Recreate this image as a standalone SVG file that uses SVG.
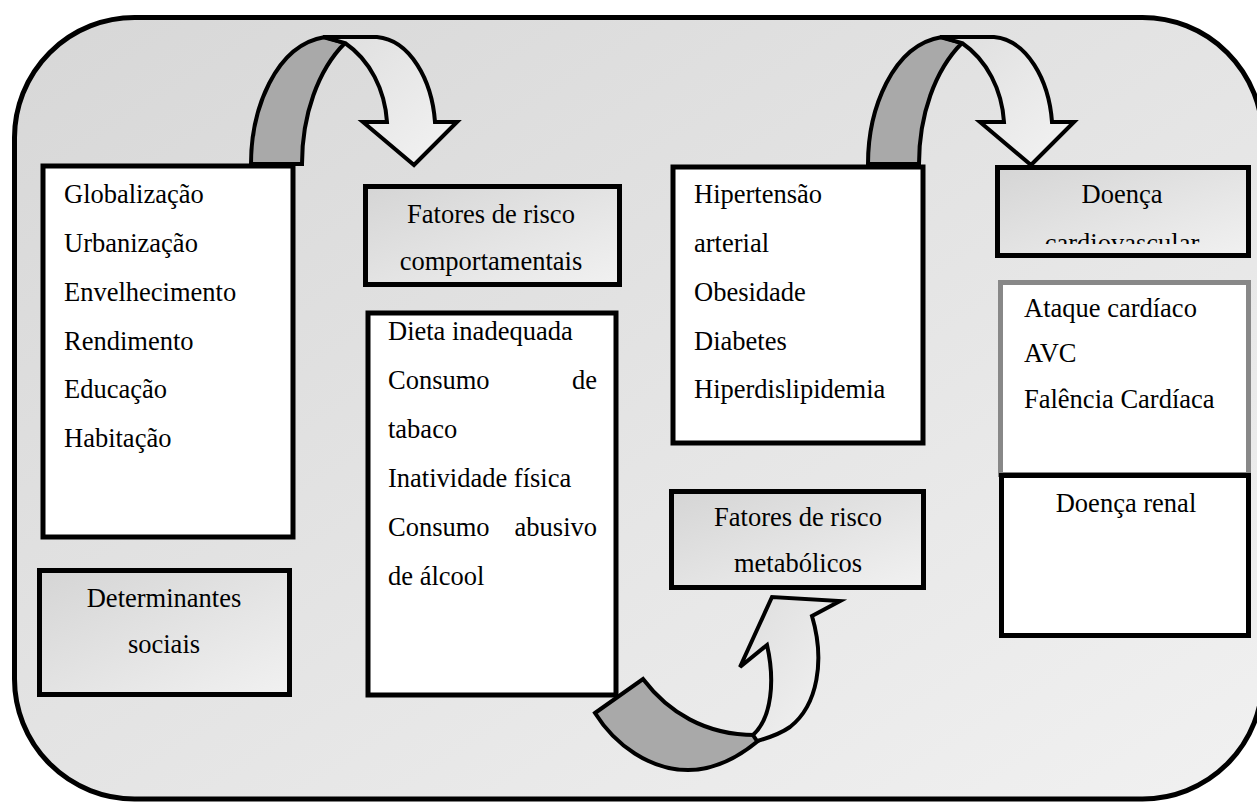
<svg xmlns="http://www.w3.org/2000/svg" width="1257" height="803" viewBox="0 0 1257 803">
<style>
.t{font-family:"Liberation Serif","Times New Roman",serif;font-size:26.5px;fill:#000}
.c{text-anchor:middle}
.e{text-anchor:end}
.wb{fill:#fff;stroke:#000;stroke-width:5}
.gb{fill:url(#gBox);stroke:#000;stroke-width:5}
.dk{fill:#a9a9a9;stroke:#000;stroke-width:4;stroke-linejoin:miter}
.lt{fill:url(#gArr);stroke:#000;stroke-width:4;stroke-linejoin:miter}
</style>
<defs>
<linearGradient id="gFrame" x1="0" y1="0" x2="1" y2="1">
<stop offset="0" stop-color="#d7d7d7"/><stop offset="1" stop-color="#f1f1f1"/>
</linearGradient>
<linearGradient id="gBox" x1="0" y1="0" x2="1" y2="1">
<stop offset="0" stop-color="#d5d5d5"/><stop offset="1" stop-color="#f1f1f1"/>
</linearGradient>
<linearGradient id="gArr" x1="0" y1="0" x2="1" y2="1">
<stop offset="0" stop-color="#dedede"/><stop offset="1" stop-color="#f3f3f3"/>
</linearGradient>
<clipPath id="clipDoenca"><rect x="998" y="168" width="250" height="76"/></clipPath>
<g id="arrowShape">
<path class="dk" d="M251,164 C251,110 275,45 325,37 L345,43 C318,70 302,115 302,164 Z"/>
<path class="lt" d="M323,37 L377,37 C410,40 432,80 435,122 L457,122 L414,165 L363,122 L387,122 C385,90 370,60 345,43 Z"/>
</g>
</defs>

<rect id="frame" x="14.5" y="17.5" width="1248" height="781.5" rx="120" ry="120" fill="url(#gFrame)" stroke="#000" stroke-width="5"/>

<g id="node-determinantes-lista">
<rect class="wb" x="43" y="166" width="250" height="371"/>
<text class="t" x="64" y="203">Globalização</text>
<text class="t" x="64" y="252">Urbanização</text>
<text class="t" x="64" y="301">Envelhecimento</text>
<text class="t" x="64" y="350">Rendimento</text>
<text class="t" x="64" y="398">Educação</text>
<text class="t" x="64" y="447">Habitação</text>
</g>

<g id="node-determinantes-sociais">
<rect class="gb" x="39.5" y="570.5" width="250" height="124"/>
<text class="t c" x="164" y="607">Determinantes</text>
<text class="t c" x="164" y="653">sociais</text>
</g>

<g id="node-comportamentais">
<rect class="gb" x="365.5" y="186.5" width="254" height="98"/>
<text class="t c" x="491" y="223">Fatores de risco</text>
<text class="t c" x="491" y="270">comportamentais</text>
</g>

<g id="node-comportamentais-lista">
<rect class="wb" x="368" y="313" width="248" height="382"/>
<text class="t" x="388" y="340">Dieta inadequada</text>
<text class="t" x="388" y="389">Consumo</text>
<text class="t e" x="597" y="389">de</text>
<text class="t" x="388" y="438">tabaco</text>
<text class="t" x="388" y="487">Inatividade física</text>
<text class="t" x="388" y="536">Consumo</text>
<text class="t e" x="597" y="536">abusivo</text>
<text class="t" x="388" y="585">de álcool</text>
</g>

<g id="node-metabolicos-lista">
<rect class="wb" x="673" y="167" width="250" height="276"/>
<text class="t" x="694" y="203">Hipertensão</text>
<text class="t" x="694" y="252">arterial</text>
<text class="t" x="694" y="301">Obesidade</text>
<text class="t" x="694" y="350">Diabetes</text>
<text class="t" x="694" y="398">Hiperdislipidemia</text>
</g>

<g id="node-metabolicos">
<rect class="gb" x="671.5" y="491.5" width="252" height="96"/>
<text class="t c" x="798" y="526">Fatores de risco</text>
<text class="t c" x="798" y="572">metabólicos</text>
</g>

<g id="node-doenca-cv">
<rect class="gb" x="997.5" y="167.5" width="251" height="88"/>
<g clip-path="url(#clipDoenca)">
<text class="t c" x="1122" y="203">Doença</text>
<text class="t c" x="1122" y="252">cardiovascular</text>
</g>
</g>

<g id="node-doencas-lista">
<rect x="1000.5" y="282.5" width="248" height="192" fill="#fff" stroke="#888" stroke-width="5"/>
<text class="t" x="1024" y="317">Ataque cardíaco</text>
<text class="t" x="1024" y="362">AVC</text>
<text class="t" x="1024" y="408">Falência Cardíaca</text>
</g>

<g id="node-doenca-renal">
<rect class="wb" x="1001.5" y="475.5" width="247" height="160"/>
<text class="t c" x="1126" y="512">Doença renal</text>
</g>

<g id="connectors">
<use href="#arrowShape"/>
<use href="#arrowShape" transform="translate(617,0)"/>
<path class="dk" d="M595,713 L643,679 C668,712 705,735 755,735 L758,741 C735,760 712,770 688,770 C650,770 615,745 595,713 Z"/>
<path class="lt" d="M753,735 C772,718 775,680 767,645 L740,667 L772,597 L840,601 L812,616 C825,660 818,705 790,727 C780,734 768,738 757,741 Z"/>
</g>
</svg>
